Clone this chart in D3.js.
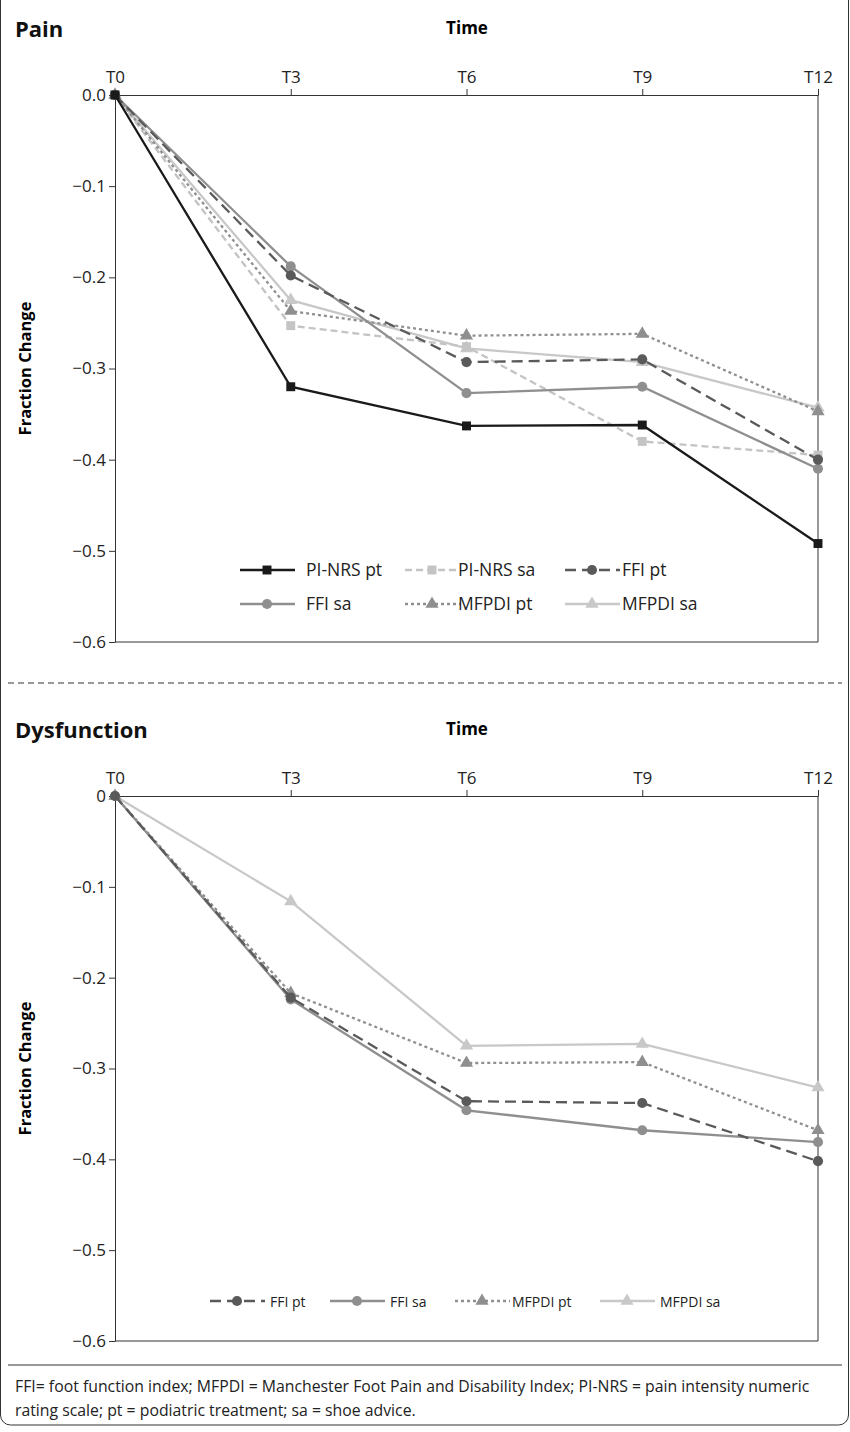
<!DOCTYPE html><html><head><meta charset="utf-8">
<script src="https://cdn.jsdelivr.net/npm/d3@7"></script>
<style>body{margin:0;background:#fff}text{font-family:"Open Sans",sans-serif}</style></head><body>
<svg id="c" width="850" height="1432"></svg>
<script>
const times=["T0","T3","T6","T9","T12"];
const painTicks=["0.0","−0.1","−0.2","−0.3","−0.4","−0.5","−0.6"];
const dysTicks=["0","−0.1","−0.2","−0.3","−0.4","−0.5","−0.6"];
const piNrsPt=[0,-0.32,-0.363,-0.362,-0.492];
const piNrsSa=[0,-0.253,-0.276,-0.38,-0.395];
const ffiPtPain=[0,-0.198,-0.293,-0.29,-0.40];
const ffiSaPain=[0,-0.188,-0.327,-0.32,-0.41];
const mfpdiPtPain=[0,-0.237,-0.264,-0.262,-0.347];
const mfpdiSaPain=[0,-0.225,-0.278,-0.293,-0.343];
const ffiPtDys=[0,-0.222,-0.336,-0.338,-0.402];
const ffiSaDys=[0,-0.224,-0.346,-0.368,-0.381];
const mfpdiPtDys=[0,-0.217,-0.294,-0.293,-0.368];
const mfpdiSaDys=[0,-0.116,-0.275,-0.273,-0.321];

const S={
 "PI-NRS pt":{c:"#1a1a1a",d:null,m:"square"},
 "PI-NRS sa":{c:"#c4c4c4",d:"7,4",m:"square"},
 "FFI pt":{c:"#5a5a5a",d:"11,6",m:"circle"},
 "FFI sa":{c:"#8f8f8f",d:null,m:"circle"},
 "MFPDI pt":{c:"#8f8f8f",d:"3,3",m:"triangle"},
 "MFPDI sa":{c:"#c8c8c8",d:null,m:"triangle"}};
const svg=d3.select("#c");
svg.append("rect").attr("x",0.5).attr("y",-10).attr("width",848).attr("height",1435).attr("rx",10).attr("fill","none").attr("stroke","#333");
svg.append("line").attr("x1",8).attr("x2",842).attr("y1",683).attr("y2",683).attr("stroke","#333").attr("stroke-dasharray","6,4");
svg.append("line").attr("x1",8).attr("x2",842).attr("y1",1365).attr("y2",1365).attr("stroke","#333");
svg.append("text").attr("x",15).attr("y",1392).attr("font-size",15.8).attr("fill","#222").text("FFI= foot function index; MFPDI = Manchester Foot Pain and Disability Index; PI-NRS = pain intensity numeric");
svg.append("text").attr("x",15).attr("y",1416).attr("font-size",15.8).attr("fill","#222").text("rating scale; pt = podiatric treatment; sa = shoe advice.");
function sym(t){return d3.symbol().type(t=="square"?d3.symbolSquare:t=="circle"?d3.symbolCircle:d3.symbolTriangle).size(t=="triangle"?75:80)();}
function panel(title,y0,y1,ticks,series,legend,lfs){
 const x=d3.scalePoint().domain(times).range([115,818]);
 const y=d3.scaleLinear().domain([0,-0.6]).range([y0,y1]);
 const g=svg.append("g");
 g.append("text").attr("x",15).attr("y",y0-58).attr("font-size",22).attr("font-weight","bold").attr("fill","#111").text(title);
 g.append("text").attr("x",467).attr("y",y0-61).attr("text-anchor","middle").attr("font-size",17).attr("font-weight","bold").text("Time");
 const top=g.append("g").attr("transform",`translate(0,${y0})`).call(d3.axisTop(x).tickSize(6).tickSizeOuter(0));
 top.selectAll("text").attr("font-size",17).attr("fill","#222").attr("dy","-0.2em");
 const left=g.append("g").attr("transform","translate(115,0)").call(d3.axisLeft(y).tickValues(d3.range(7).map(i=>-i/10)).tickFormat((d,i)=>ticks[i]).tickSize(6).tickSizeOuter(0));
 left.selectAll("text").attr("font-size",17).attr("fill","#222");
 g.selectAll(".domain,.tick line").attr("stroke","#333");
 g.append("line").attr("x1",818).attr("x2",818).attr("y1",y0).attr("y2",y1).attr("stroke","#333");
 g.append("line").attr("x1",115).attr("x2",818).attr("y1",y1).attr("y2",y1).attr("stroke","#333");
 g.append("text").attr("transform",`translate(31,${(y0+y1)/2}) rotate(-90)`).attr("text-anchor","middle").attr("font-size",16.5).attr("font-weight","bold").text("Fraction Change");
 const line=d3.line().x((d,i)=>x(times[i])).y(d=>y(d));
 series.forEach(([n,v])=>{const s=S[n];
  g.append("path").attr("d",line(v)).attr("fill","none").attr("stroke",s.c).attr("stroke-width",2.3).attr("stroke-dasharray",s.d);
  v.forEach((d,i)=>g.append("path").attr("d",sym(s.m)).attr("transform",`translate(${x(times[i])},${y(d)})`).attr("fill",s.c));});
 legend.forEach(([n,lx,ly,tx])=>{const s=S[n];
  g.append("line").attr("x1",lx).attr("x2",lx+55).attr("y1",ly).attr("y2",ly).attr("stroke",s.c).attr("stroke-width",2.3).attr("stroke-dasharray",s.d);
  g.append("path").attr("d",sym(s.m)).attr("transform",`translate(${lx+27},${ly})`).attr("fill",s.c);
  g.append("text").attr("x",tx).attr("y",ly+6).attr("font-size",lfs).attr("fill","#222").text(n);});
}
panel("Pain",95,642,painTicks,[["MFPDI sa",mfpdiSaPain],["PI-NRS sa",piNrsSa],["MFPDI pt",mfpdiPtPain],["FFI sa",ffiSaPain],["FFI pt",ffiPtPain],["PI-NRS pt",piNrsPt]],
 [["PI-NRS pt",240,570,306],["PI-NRS sa",405,570,458],["FFI pt",565,570,622],["FFI sa",240,604,306],["MFPDI pt",405,604,458],["MFPDI sa",565,604,622]],17.5);
panel("Dysfunction",796,1341,dysTicks,[["MFPDI sa",mfpdiSaDys],["MFPDI pt",mfpdiPtDys],["FFI sa",ffiSaDys],["FFI pt",ffiPtDys]],
 [["FFI pt",210,1301,270],["FFI sa",330,1301,390],["MFPDI pt",455,1301,512],["MFPDI sa",600,1301,660]],14);
</script></body></html>
